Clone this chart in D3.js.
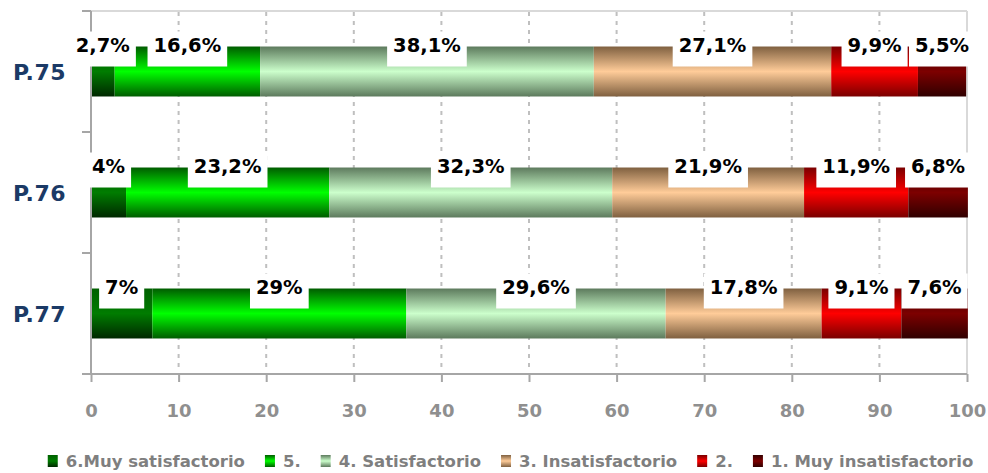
<!DOCTYPE html>
<html>
<head>
<meta charset="utf-8">
<script src="https://cdn.jsdelivr.net/npm/d3@7"></script>
<style>
  html, body { margin: 0; padding: 0; background: #fff; }
  svg { display: block; }
  text { font-family: "DejaVu Sans", sans-serif; font-weight: bold; }
</style>
</head>
<body>
<svg id="chart" width="988" height="473"></svg>
<script>
// ---- data ----
const categories = ["P.75", "P.76", "P.77"];
const seriesNames = ["6.Muy satisfactorio", "5.", "4. Satisfactorio", "3. Insatisfactorio", "2.", "1. Muy insatisfactorio"];
const muySatisfactorio   = [2.7, 4, 7];
const cinco              = [16.6, 23.2, 29];
const satisfactorio      = [38.1, 32.3, 29.6];
const insatisfactorio    = [27.1, 21.9, 17.8];
const dos                = [9.9, 11.9, 9.1];
const muyInsatisfactorio = [5.5, 6.8, 7.6];
const xTicks = [0, 10, 20, 30, 40, 50, 60, 70, 80, 90, 100];

const seriesValues = [muySatisfactorio, cinco, satisfactorio, insatisfactorio, dos, muyInsatisfactorio];
// gradient colours (edge, centre, edge)
const seriesColors = [
  ["#006000", "#007c00", "#002800"],
  ["#005c00", "#00ff00", "#005c00"],
  ["#5d7a5d", "#ccffcc", "#5d7a5d"],
  ["#7f6040", "#ffcc99", "#7f6040"],
  ["#7a0000", "#ff0000", "#7a0000"],
  ["#330000", "#7d0000", "#300000"]
];

const table = categories.map((c, i) => {
  const row = { cat: c };
  seriesNames.forEach((s, j) => row[s] = seriesValues[j][i]);
  return row;
});

const svg = d3.select("#chart");
const m = { left: 91, right: 967, top: 11, bottom: 374 };

const x = d3.scaleLinear().domain([0, 100]).range([m.left, m.right]);
const y = d3.scaleBand().domain(categories).range([m.top, m.bottom])
  .paddingInner(0.587).paddingOuter(0.2935);

// gradients
const defs = svg.append("defs");
seriesColors.forEach((c, j) => {
  const g = defs.append("linearGradient").attr("id", "g" + j)
    .attr("x1", 0).attr("y1", 0).attr("x2", 0).attr("y2", 1);
  g.append("stop").attr("offset", "0%").attr("stop-color", c[0]);
  g.append("stop").attr("offset", "50%").attr("stop-color", c[1]);
  g.append("stop").attr("offset", "100%").attr("stop-color", c[2]);
});

// plot frame (top & right)
svg.append("line").attr("x1", m.left).attr("x2", m.right).attr("y1", m.top).attr("y2", m.top)
  .attr("stroke", "#d9d9d9").attr("stroke-width", 2);
svg.append("line").attr("x1", m.right).attr("x2", m.right).attr("y1", m.top).attr("y2", m.bottom)
  .attr("stroke", "#d9d9d9").attr("stroke-width", 2);

// gridlines
svg.append("g").selectAll("line").data(xTicks.filter(t => t > 0 && t < 100)).join("line")
  .attr("x1", d => x(d)).attr("x2", d => x(d))
  .attr("y1", m.top + 1).attr("y2", m.bottom - 2)
  .attr("stroke", "#bfbfbf").attr("stroke-width", 2).attr("stroke-dasharray", "4,5");

// bars
const stack = d3.stack().keys(seriesNames)(table);
const layers = svg.append("g").selectAll("g").data(stack).join("g")
  .attr("fill", (d, j) => `url(#g${j})`);
layers.selectAll("rect").data(d => d).join("rect")
  .attr("x", d => x(d[0]))
  .attr("y", d => y(d.data.cat))
  .attr("width", d => x(d[1]) - x(d[0]))
  .attr("height", y.bandwidth());

// x axis
const xAxis = svg.append("g").attr("transform", `translate(0,${m.bottom})`)
  .call(d3.axisBottom(x).tickValues(xTicks).tickSize(8).tickPadding(22).tickSizeOuter(0));
xAxis.select(".domain").attr("stroke", "#a6a6a6").attr("stroke-width", 2)
  .attr("d", `M${m.left - 9},0H${m.right}`);
xAxis.selectAll(".tick line").attr("stroke", "#a6a6a6").attr("stroke-width", 2);
xAxis.selectAll(".tick text").attr("fill", "#8f8f8f").style("font-size", "18px")
  .style("font-family", "DejaVu Sans, sans-serif").style("font-weight", "bold");

// y axis
svg.append("line").attr("x1", m.left).attr("x2", m.left).attr("y1", m.top).attr("y2", m.bottom)
  .attr("stroke", "#a6a6a6").attr("stroke-width", 2);
const bounds = [m.top, ...categories.map(c => y(c) - y.step() * y.paddingOuter() + y.step())];
svg.append("g").selectAll("line").data(bounds).join("line")
  .attr("x1", m.left - 9).attr("x2", m.left).attr("y1", d => d).attr("y2", d => d)
  .attr("stroke", "#a6a6a6").attr("stroke-width", 2);
svg.append("g").selectAll("text").data(categories).join("text")
  .attr("x", 66).attr("y", d => y(d) + y.bandwidth() / 2 + 2)
  .attr("text-anchor", "end").attr("dominant-baseline", "middle")
  .attr("fill", "#1b3a66").style("font-size", "22px").style("letter-spacing", "0.5px")
  .text(d => d);

// data labels
const fmt = v => String(v).replace(".", ",") + "%";
const labelG = svg.append("g");
stack.forEach((layer, j) => {
  layer.forEach((d, i) => {
    const cx = (x(d[0]) + x(d[1])) / 2;
    const base = y(d.data.cat) + 5;
    const g = labelG.append("g");
    const t = g.append("text").attr("x", cx).attr("y", base)
      .attr("text-anchor", "middle").attr("fill", "#000")
      .style("font-size", "19.5px").text(fmt(seriesValues[j][i]));
    const w = t.node().getComputedTextLength();
    g.insert("rect", "text").attr("x", cx - w / 2 - 6).attr("y", base - 20)
      .attr("width", w + 12).attr("height", 35).attr("fill", "#fff");
  });
});

// legend
const legend = svg.append("g");
let lx = 0;
seriesNames.forEach((s, j) => {
  const g = legend.append("g").attr("transform", `translate(${lx},0)`);
  g.append("rect").attr("x", 0).attr("y", -7).attr("width", 10).attr("height", 12)
    .attr("fill", `url(#g${j})`);
  const t = g.append("text").attr("x", 18).attr("y", 0).attr("dominant-baseline", "middle")
    .attr("fill", "#7f7f7f").style("font-size", "16.5px").text(s);
  const w = t.node().getComputedTextLength();
  lx += 18 + w + 20;
});
const total = lx - 20;
legend.attr("transform", `translate(${(48 + 973) / 2 - total / 2},462)`);
</script>
</body>
</html>
